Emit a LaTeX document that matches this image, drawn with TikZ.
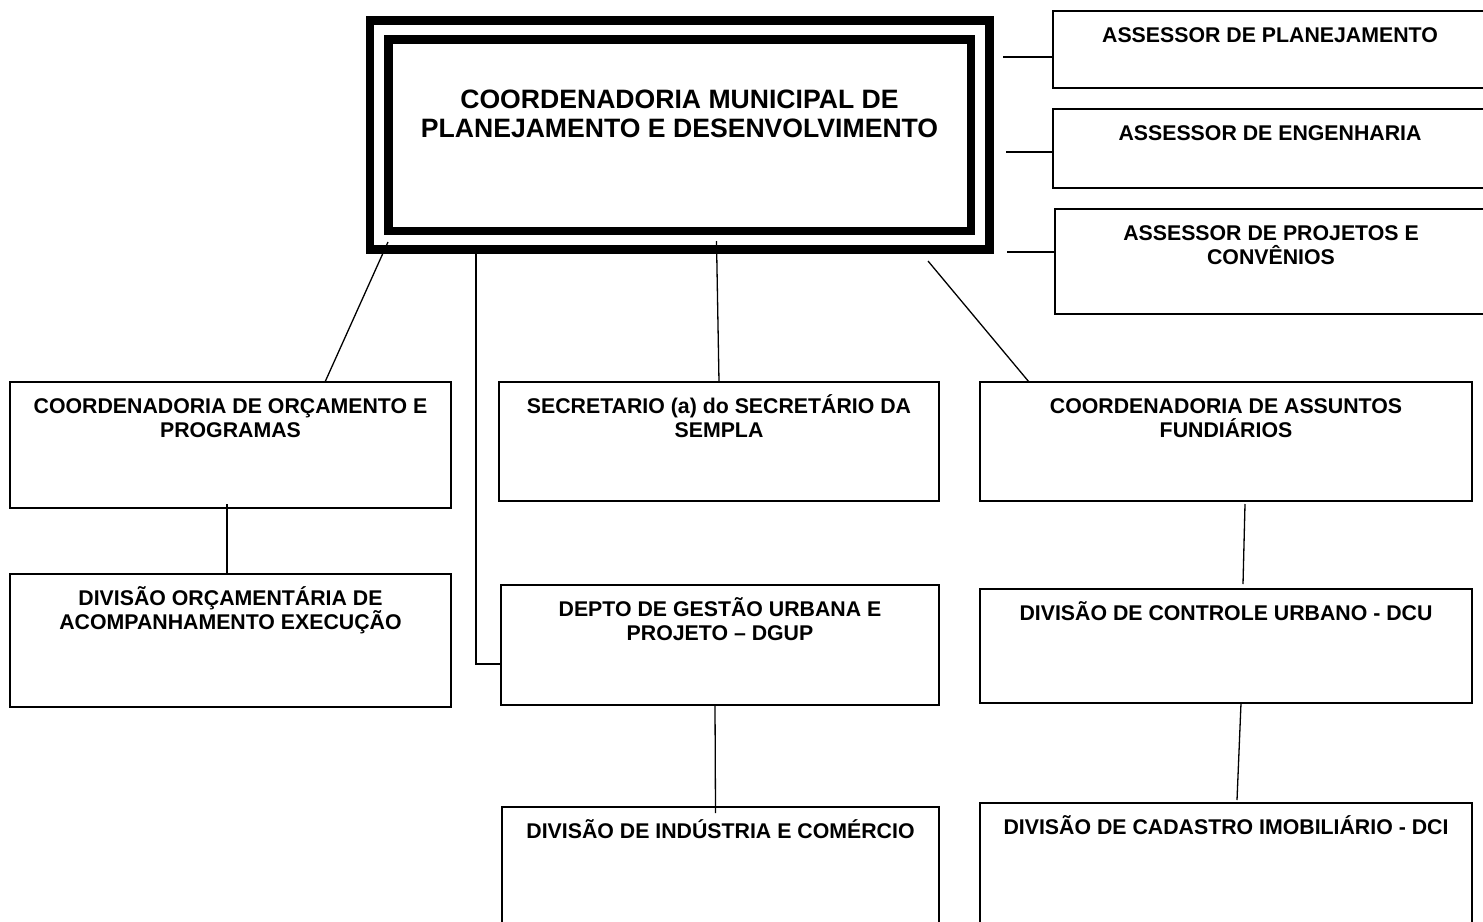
\documentclass[tikz,border=0pt]{standalone}
\usepackage{fontspec}
\setmainfont{Liberation Sans}
\usetikzlibrary{positioning}
\newcommand{\hd}{\rule{0pt}{21bp}}
\newcommand{\hdbig}{\rule{0pt}{24bp}}

\begin{document}
\begin{tikzpicture}
	[x=1bp,y=-1bp,
	unit/.style={draw,rectangle,line width=1.6bp,inner sep=0pt,outer sep=0pt},
	txt/.style={font=\fontsize{21.3bp}{24.5bp}\selectfont\bfseries,align=center,inner sep=0pt},
	head/.style={font=\fontsize{26.6bp}{28.5bp}\selectfont\bfseries,align=center,inner sep=0pt},
	link/.style={line width=1.3bp}]
	\path[use as bounding box,clip] (0,0) rectangle (1483,921);
	\fill[white] (0,0) rectangle (1483,921);
	% main box with double frame
	\node[draw,rectangle,line width=8.5bp,double,double distance=10bp,inner sep=0pt,outer sep=0pt,
		minimum width=601bp,minimum height=210bp,name=cmpd] at (679.5,135) {};
	\node[head,below=54.5bp of cmpd.north,name=cmpd-t] {\hdbig COORDENADORIA MUNICIPAL DE\\PLANEJAMENTO E DESENVOLVIMENTO};
	% assessores
	\node[unit,minimum width=434bp,minimum height=77bp,name=apl] at (1270,49.5) {};
	\node[unit,minimum width=434bp,minimum height=79bp,name=aen] at (1270,148.5) {};
	\node[unit,minimum width=432bp,minimum height=105bp,name=apc] at (1271,261.5) {};
	\node[txt,below=10bp of apl.north,name=apl-t] {\hd ASSESSOR DE PLANEJAMENTO};
	\node[txt,below=10bp of aen.north,name=aen-t] {\hd ASSESSOR DE ENGENHARIA};
	\node[txt,below=10bp of apc.north,name=apc-t] {\hd ASSESSOR DE PROJETOS E\\CONVÊNIOS};
	% units
	\node[unit,minimum width=441bp,minimum height=126bp,name=cop] at (230.5,445) {};
	\node[unit,minimum width=441bp,minimum height=133bp,name=doa] at (230.5,640.5) {};
	\node[unit,minimum width=440bp,minimum height=119bp,name=sec] at (719,441.5) {};
	\node[unit,minimum width=438bp,minimum height=120bp,name=dgup] at (720,645) {};
	\node[unit,minimum width=437bp,minimum height=140bp,name=dic] at (720.5,877) {};
	\node[unit,minimum width=492bp,minimum height=119bp,name=caf] at (1226,441.5) {};
	\node[unit,minimum width=492bp,minimum height=114bp,name=dcu] at (1226,646) {};
	\node[unit,minimum width=492bp,minimum height=140bp,name=dci] at (1226,873) {};
	\node[txt,below=10bp of cop.north,name=cop-t] {\hd COORDENADORIA DE ORÇAMENTO E\\PROGRAMAS};
	\node[txt,below=10bp of doa.north,name=doa-t] {\hd DIVISÃO ORÇAMENTÁRIA DE\\ACOMPANHAMENTO EXECUÇÃO};
	\node[txt,below=10bp of sec.north,name=sec-t] {\hd SECRETARIO (a) do SECRETÁRIO DA\\SEMPLA};
	\node[txt,below=10bp of dgup.north,name=dgup-t] {\hd DEPTO DE GESTÃO URBANA E\\PROJETO – DGUP};
	\node[txt,below=10bp of dic.north,name=dic-t] {\hd DIVISÃO DE INDÚSTRIA E COMÉRCIO};
	\node[txt,below=10bp of caf.north,name=caf-t] {\hd COORDENADORIA DE ASSUNTOS\\FUNDIÁRIOS};
	\node[txt,below=10bp of dcu.north,name=dcu-t] {\hd DIVISÃO DE CONTROLE URBANO - DCU};
	\node[txt,below=10bp of dci.north,name=dci-t] {\hd DIVISÃO DE CADASTRO IMOBILIÁRIO - DCI};
	% connectors
	\draw[link] ([xshift=9bp,yshift=-2bp]cmpd.south west)--([xshift=94.5bp]cop.north);
	\draw[link] ([xshift=-203.5bp,yshift=-14bp]cmpd.south)|-([yshift=-19bp]dgup.west);
	\draw[link] ([xshift=37bp,yshift=-1bp]cmpd.south)--(sec.north);
	\draw[link] ([xshift=-52bp,yshift=-21bp]cmpd.south east)--([xshift=49bp]caf.north west);
	\draw[link] ([yshift=-7.5bp]apl.west)--++(-50,0);
	\draw[link] ([yshift=-3.5bp]aen.west)--++(-47,0);
	\draw[link] ([yshift=9.5bp]apc.west)--++(-48,0);
	\draw[link] ([xshift=-3.5bp,yshift=4bp]cop.south)--([xshift=-3.5bp]doa.north);
	\draw[link] ([xshift=-5bp]dgup.south)--([xshift=-5bp,yshift=-6bp]dic.north);
	\draw[link] ([xshift=19bp,yshift=-3bp]caf.south)--([xshift=17bp,yshift=5bp]dcu.north);
	\draw[link] ([xshift=15bp]dcu.south)--([xshift=11bp,yshift=3bp]dci.north);
\end{tikzpicture}
\end{document}
